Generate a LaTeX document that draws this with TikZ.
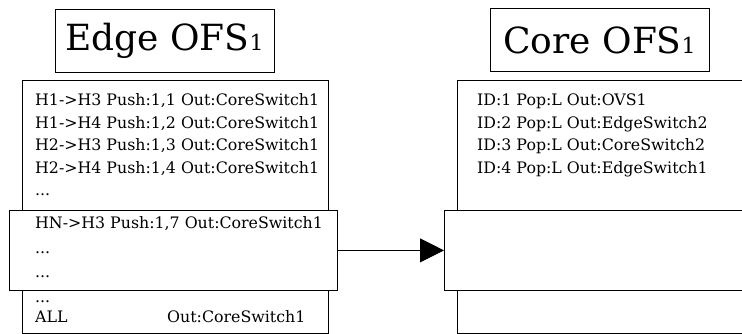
\documentclass[tikz,border=0pt]{standalone}
\usepackage{fontspec}
\setmainfont{DejaVu Serif}
\usetikzlibrary{arrows.meta}
\begin{document}
\begin{tikzpicture}[x=1pt,y=-1pt,
  panel/.style={draw=black, line width=0.8pt, fill=white, inner sep=0pt, anchor=north west},
  titlebox/.style={draw=black, line width=0.8pt, inner sep=0pt, minimum width=219pt,
    minimum height=63pt, font=\fontsize{36}{42}\selectfont},
  rowtext/.style={anchor=base west, inner sep=0pt, font=\fontsize{15.8}{19}\selectfont},
  link/.style={line width=0.8pt, -{Triangle[length=24pt,width=24pt]}}
]
\useasboundingbox (0,0) rectangle (742,334);
\newcommand{\subone}{{\fontsize{22}{26}\selectfont 1}}

% titles
\node[titlebox] (edgetitle) at (164.5,40.5) {Edge OFS\subone};
\node[titlebox] (coretitle) at (599.5,40) {Core OFS\subone};

% edge switch flow table
\node[panel, minimum width=306pt, minimum height=252.5pt] (edgetable) at (22,80) {};
\node[rowtext] (e1) at (35,106) {H1->H3 Push:1,1 Out:CoreSwitch1};
\node[rowtext] (e2) at (35,128.5) {H1->H4 Push:1,2 Out:CoreSwitch1};
\node[rowtext] (e3) at (35,151) {H2->H3 Push:1,3 Out:CoreSwitch1};
\node[rowtext] (e4) at (35,173.5) {H2->H4 Push:1,4 Out:CoreSwitch1};
\node[rowtext] (e5) at (35,196) {...};
\node[rowtext] (e6) at (35,302) {...};
\node[rowtext] (e7) at (35,322) {ALL};
\node[rowtext] (e7out) at (167,322) {Out:CoreSwitch1};

% highlighted edge entry
\node[panel, minimum width=328pt, minimum height=80pt] (edgeov) at (9,210) {};
\node[rowtext] (h1) at (35,228) {HN->H3 Push:1,7 Out:CoreSwitch1};
\node[rowtext] (h2) at (35,253) {...};
\node[rowtext] (h3) at (35,277) {...};

% core switch flow table
\node[panel, minimum width=300pt, minimum height=252.5pt] (coretable) at (457,80) {};
\node[rowtext] (c1) at (477,106) {ID:1 Pop:L Out:OVS1};
\node[rowtext] (c2) at (477,128.5) {ID:2 Pop:L Out:EdgeSwitch2};
\node[rowtext] (c3) at (477,151) {ID:3 Pop:L Out:CoreSwitch2};
\node[rowtext] (c4) at (477,173.5) {ID:4 Pop:L Out:EdgeSwitch1};

% highlighted core entry
\node[panel, minimum width=310pt, minimum height=80pt] (coreov) at (444,210) {};

\draw[link] (edgeov.east) -- (coreov.west);
\end{tikzpicture}
\end{document}
